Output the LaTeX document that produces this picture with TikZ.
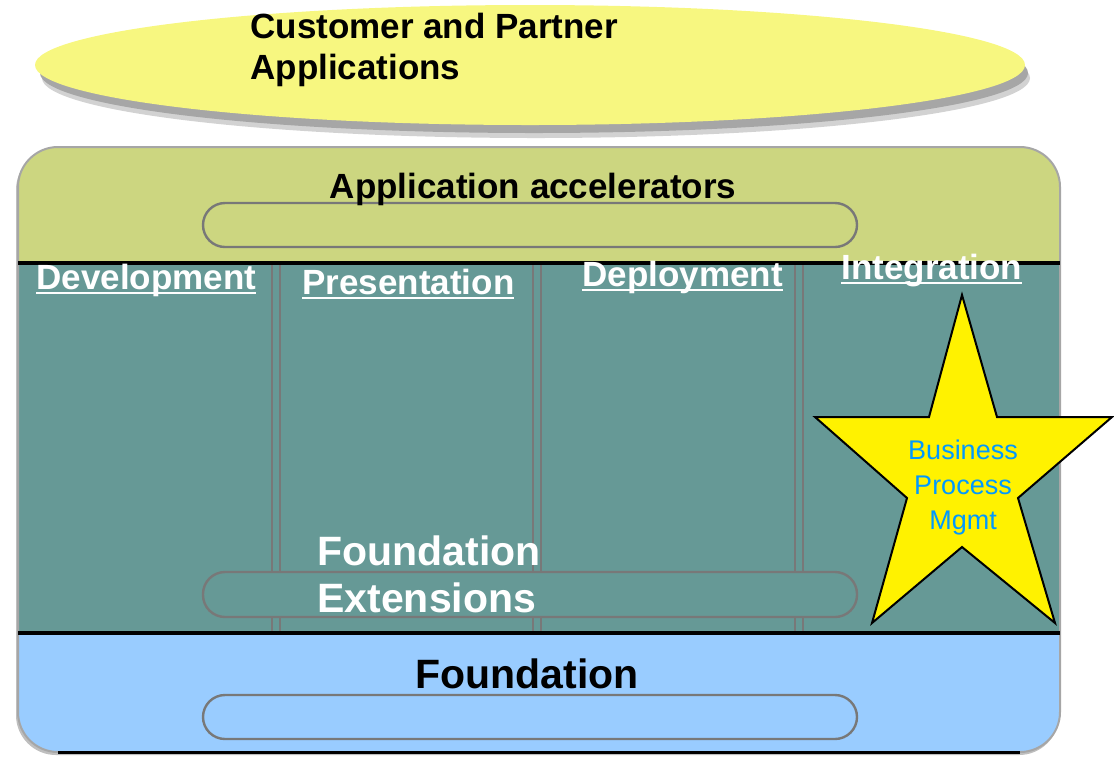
\documentclass[tikz,border=0pt]{standalone}
\usepackage{fontspec}
\setmainfont{Liberation Sans}
\usetikzlibrary{shapes.geometric}
\definecolor{ellfill}{RGB}{247,247,128}
\definecolor{accgreen}{RGB}{204,214,128}
\definecolor{extteal}{RGB}{102,153,150}
\definecolor{fndblue}{RGB}{153,204,255}
\definecolor{pillgray}{RGB}{120,120,120}
\definecolor{bpmblue}{RGB}{0,153,255}
\newcommand\ulhead[1]{\setbox0\hbox{#1}\rlap{\rule[-2.6pt]{\wd0}{1.2pt}}\box0}
\tikzset{
	layertitle/.style={inner sep=0pt,font=\bfseries\fontsize{20.5}{23.5}\selectfont},
	smalltitle/.style={inner sep=0pt,font=\bfseries\fontsize{17.5}{20.5}\selectfont},
	colhead/.style={smalltitle,anchor=base west,text=white},
	pill/.style={draw=pillgray,line width=1.2pt,rounded corners=11pt},
	pillar/.style={draw=pillgray,line width=1.3pt},
}
\begin{document}
\begin{tikzpicture}
		[x=0.5pt,y=-0.5pt]
		\useasboundingbox (0,0) rectangle (1114,757);
		% customer ellipse with its shadow
		\fill[gray!35] (536,78) ellipse [x radius=494,y radius=60];
		\fill[gray!70] (534,73) ellipse [x radius=494,y radius=60];
		\node[ellipse,fill=ellfill,minimum width=495pt,minimum height=60pt,inner sep=0pt](apps) at (530,65){};
		\node[smalltitle,anchor=north west,align=left](appstext) at (250,13)
		{Customer and Partner\\Applications};
		% frame and its three layers
		\fill[gray!50,rounded corners=20pt] (16,150) rectangle (1059,755);
		\begin{scope}
			\clip[rounded corners=20pt] (18,147) rectangle (1060,752);
			\fill[accgreen] (18,147) rectangle (1060,263);
			\fill[extteal] (18,263) rectangle (1060,633);
			\fill[fndblue] (18,633) rectangle (1060,752);
		\end{scope}
		\draw[gray!70,line width=1pt,rounded corners=20pt] (18,147) rectangle (1060,752);
		\draw[line width=1.5pt] (58,752) -- (1020,752);
		% pillars
		\foreach \px in {272,533,795}
		{
			\draw[pillar] (\px,263) -- (\px,633);
			\draw[pillar] (\px+8,263) -- (\px+8,633);
		}
		% pills
		\draw[pill,fill=accgreen] (203,203) rectangle (857,247);
		\draw[pill,fill=extteal] (203,572) rectangle (857,617);
		\draw[pill,fill=fndblue] (203,695) rectangle (857,739);
		% layer borders
		\draw[line width=2pt] (18,263) -- (1060,263);
		\draw[line width=2pt] (18,633) -- (1060,633);
		% layer titles
		\node[smalltitle,anchor=base](acc) at (533,198){Application accelerators};
		\node[layertitle,anchor=base](fnd) at (527,688){Foundation};
		\node[layertitle,anchor=north west,align=left,text=white](ext) at (317,535)
		{Foundation\\Extensions};
		% column headings
		\node[colhead](dev) at (36,289){\ulhead{Development}};
		\node[colhead](pres) at (302,294){\ulhead{Presentation}};
		\node[colhead](depl) at (582,286){\ulhead{Deployment}};
		\node[colhead](integ) at (841,279){\ulhead{Integration}};
		% star
		\filldraw[fill=yellow,draw=black,line width=1pt] (962,295) -- (997,417) -- (1112,417)
		-- (1018,498) -- (1055,623) -- (962,547) -- (872,623) -- (907,498) -- (815,417)
		-- (929,417) -- cycle;
		\node[inner sep=0pt,align=center,text=bpmblue,font=\fontsize{13.5}{17.5}\selectfont](bpm) at (963,488)
		{Business\\Process\\Mgmt};
	\end{tikzpicture}
\end{document}
